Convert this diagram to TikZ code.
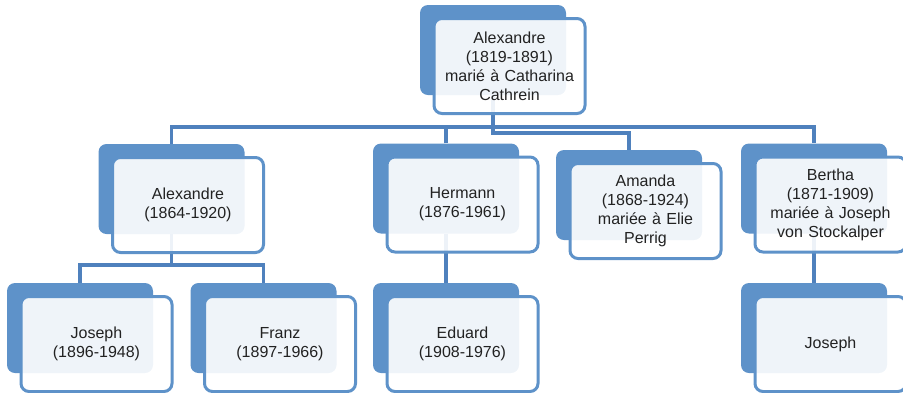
\documentclass[tikz,border=0pt]{standalone}
\usepackage{fontspec}
\setmainfont{Liberation Sans}
\usetikzlibrary{backgrounds}
\definecolor{boxblue}{RGB}{94,146,201}
\definecolor{lineblue}{RGB}{79,129,189}
\definecolor{boxtext}{RGB}{34,34,34}

\begin{document}
\begin{tikzpicture}[x=1pt,y=-1pt,
  backbox/.style={rectangle,rounded corners=8pt,fill=boxblue,
    minimum width=146pt,minimum height=90pt,inner sep=0pt},
  frontbox/.style={rectangle,rounded corners=8pt,draw=boxblue,line width=3pt,
    fill=white,fill opacity=0.9,text opacity=1,text=boxtext,
    minimum width=151pt,minimum height=95pt,text width=140pt,align=center,
    inner sep=0pt,font=\fontsize{16}{19}\selectfont},
  link/.style={draw=lineblue,line width=3.5pt}]
  \useasboundingbox (0,0) rectangle (903,392);

  % blue boxes behind
  \node[backbox] (topb) at (493,50) {};
  \node[backbox] (alexb) at (171.5,189) {};
  \node[backbox] (hermb) at (446,188.5) {};
  \node[backbox] (amandab) at (629,195) {};
  \node[backbox] (berthab) at (814,188.5) {};
  \node[backbox] (josephab) at (80,328) {};
  \node[backbox] (franzb) at (263.5,328) {};
  \node[backbox] (eduardb) at (446,328) {};
  \node[backbox] (josephbb) at (814,328) {};

  % name boxes
  \node[frontbox] (top) at (509.5,66) {Alexandre\\(1819-1891)\\marié à Catharina\\Cathrein};
  \node[frontbox] (alex) at (188,205) {Alexandre\\(1864-1920)};
  \node[frontbox] (herm) at (462.5,204.5) {Hermann\\(1876-1961)};
  \node[frontbox] (amanda) at (645.5,211) {Amanda\\(1868-1924)\\mariée à Elie\\Perrig};
  \node[frontbox] (bertha) at (830.5,204.5) {Bertha\\(1871-1909)\\mariée à Joseph\\von Stockalper};
  \node[frontbox] (josepha) at (96.5,344) {Joseph\\(1896-1948)};
  \node[frontbox] (franz) at (280,344) {Franz\\(1897-1966)};
  \node[frontbox] (eduard) at (462.5,344) {Eduard\\(1908-1976)};
  \node[frontbox] (josephb) at (830.5,344) {Joseph};

  \coordinate (bus) at (493,127);
  \coordinate (busb) at (493,133);
  \coordinate (busc) at (171.5,265);

  \begin{scope}[on background layer]
    \draw[link] (topb.south) |- (busb) -| (amandab.north);
    \draw[link] (alexb.north) |- (bus) -| (berthab.north);
    \draw[link] (hermb.north) -- (hermb |- bus);
    \draw[link] (alexb.south) -- (busc);
    \draw[link] (josephab.north) |- (busc) -| (franzb.north);
    \draw[link] (hermb.south) -- (eduardb.north);
    \draw[link] (berthab.south) -- (josephbb.north);
  \end{scope}
\end{tikzpicture}
\end{document}
